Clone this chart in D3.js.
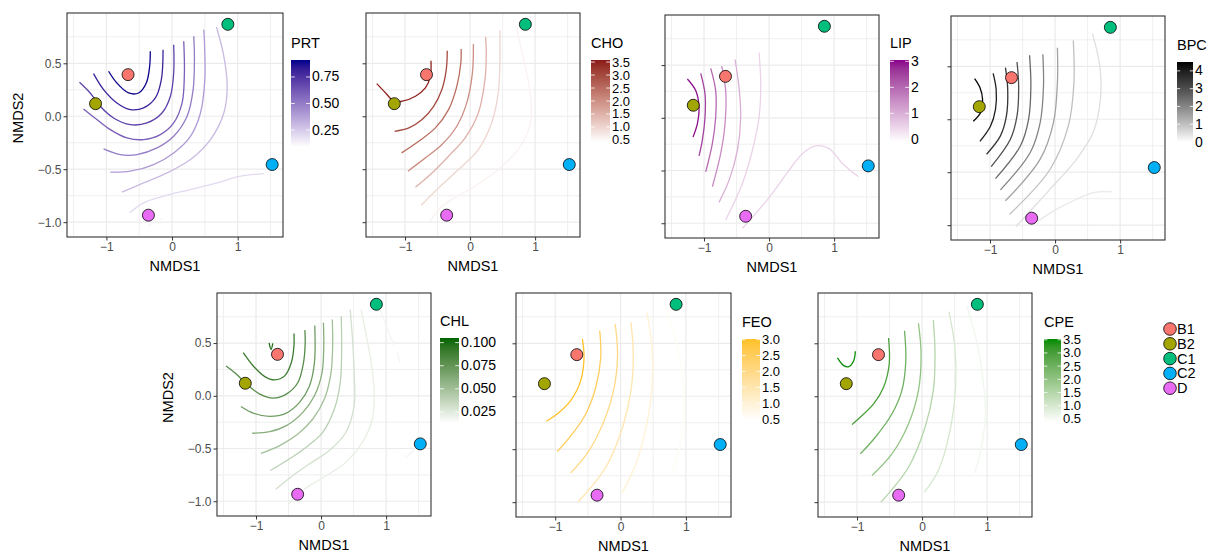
<!DOCTYPE html>
<html>
<head>
<meta charset="utf-8">
<script src="https://cdn.jsdelivr.net/npm/d3@7"></script>
<style>
body { margin: 0; background: white; }
svg { font-family: "Liberation Sans", Arial, Helvetica, sans-serif; }
</style>
</head>
<body>
<script>
// sites
const groups = ["B1", "B2", "C1", "C2", "D"];
const groupColors = ["#F8766D", "#A3A500", "#00BF7D", "#00B0F6", "#E76BF3"];
const nmds1 = [-0.67, -1.165, 0.85, 1.525, -0.36];
const nmds2 = [0.393, 0.119, 0.868, -0.456, -0.934];

const xTicks = [-1, 0, 1];
const xTickLabels = ["\u22121", "0", "1"];
const yTicks = [-1, -0.5, 0, 0.5];
const yTickLabels = ["\u22121.0", "\u22120.5", "0.0", "0.5"];
const xMinor = [-1.5, -0.5, 0.5, 1.5];
const yMinor = [-0.75, -0.25, 0.25, 0.75];

// ordisurf contour lines, [level, points in NMDS units]
const prtLines = [
    [0.9, [[-0.967,0.425],[-0.84,0.314],[-0.662,0.22],[-0.509,0.22],[-0.392,0.314],[-0.341,0.472],[-0.331,0.613]]],
    [0.8, [[-1.196,0.403],[-1.043,0.252],[-0.84,0.126],[-0.636,0.063],[-0.433,0.079],[-0.254,0.173],[-0.163,0.346],[-0.137,0.629]]],
    [0.7, [[-1.41,0.321],[-1.247,0.22],[-1.094,0.094],[-0.891,-0.016],[-0.636,-0.079],[-0.382,-0.063],[-0.153,0.031],[-0.025,0.189],[0.025,0.409],[0.025,0.676]]],
    [0.6, [[-1.349,0.069],[-1.145,-0.031],[-0.941,-0.126],[-0.687,-0.204],[-0.433,-0.22],[-0.178,-0.173],[0.025,-0.063],[0.153,0.126],[0.188,0.409],[0.178,0.708]]],
    [0.5, [[-1.043,-0.308],[-0.789,-0.362],[-0.534,-0.362],[-0.229,-0.299],[0.025,-0.189],[0.229,0],[0.321,0.252],[0.341,0.535],[0.331,0.755]]],
    [0.4, [[-0.941,-0.528],[-0.636,-0.519],[-0.28,-0.456],[0.025,-0.346],[0.28,-0.189],[0.433,0.031],[0.499,0.346],[0.494,0.692],[0.483,0.818]]],
    [0.3, [[-0.763,-0.717],[-0.433,-0.629],[-0.076,-0.535],[0.28,-0.409],[0.585,-0.22],[0.789,0.031],[0.84,0.283],[0.789,0.566],[0.677,0.843]]],
    [0.2, [[-0.646,-0.912],[-0.433,-0.818],[-0.127,-0.755],[0.28,-0.692],[0.687,-0.629],[1.043,-0.566],[1.399,-0.541]]],
    [0.12, [[-0.37,-1.04],[-0.27,-0.99]]],
    [0.12, [[-0.22,-0.975],[-0.15,-0.97]]]
];
const choLines = [
    [3.5, [[-1.435,0.308],[-1.298,0.22],[-1.17,0.142],[-1.043,0.142],[-0.84,0.189],[-0.687,0.267],[-0.611,0.377],[-0.601,0.525]]],
    [3.0, [[-1.16,-0.142],[-0.941,-0.11],[-0.738,-0.031],[-0.56,0.094],[-0.433,0.252],[-0.366,0.44],[-0.351,0.619]]],
    [2.5, [[-1.053,-0.346],[-0.789,-0.236],[-0.534,-0.11],[-0.331,0.063],[-0.204,0.283],[-0.142,0.503],[-0.137,0.635]]],
    [2.0, [[-0.957,-0.519],[-0.687,-0.393],[-0.433,-0.267],[-0.204,-0.094],[-0.051,0.126],[0.036,0.409],[0.051,0.682]]],
    [1.5, [[-0.84,-0.67],[-0.585,-0.535],[-0.331,-0.377],[-0.076,-0.204],[0.127,0.031],[0.229,0.346],[0.249,0.597],[0.239,0.748]]],
    [1.0, [[-0.753,-0.84],[-0.483,-0.676],[-0.178,-0.503],[0.127,-0.314],[0.331,-0.063],[0.433,0.22],[0.458,0.503],[0.458,0.811]]],
    [0.6, [[-0.621,-1.0],[-0.483,-0.881],[-0.28,-0.786],[0.076,-0.66],[0.433,-0.503],[0.738,-0.314],[0.916,-0.094],[0.941,0.094],[0.891,0.346],[0.789,0.629],[0.712,0.849]]]
];
const lipLines = [
    [3.0, [[-1.256,0.368],[-1.128,0.258],[-1.077,0.101],[-1.103,-0.057],[-1.169,-0.182]]],
    [2.5, [[-1.051,0.421],[-0.985,0.226],[-0.985,0.006],[-1.026,-0.214],[-1.077,-0.362]]],
    [2.0, [[-0.897,0.469],[-0.821,0.258],[-0.821,0.006],[-0.872,-0.245],[-0.974,-0.513]]],
    [1.5, [[-0.728,0.491],[-0.667,0.258],[-0.677,-0.057],[-0.744,-0.34],[-0.872,-0.654]]],
    [1.0, [[-0.523,0.553],[-0.462,0.289],[-0.436,0.006],[-0.487,-0.308],[-0.615,-0.591],[-0.769,-0.802]]],
    [0.5, [[-0.154,0.619],[-0.128,0.321],[-0.154,0.006],[-0.256,-0.308],[-0.41,-0.623],[-0.667,-0.969]]],
    [0.5, [[-0.41,-1.047],[-0.205,-0.906],[0.051,-0.717],[0.308,-0.497],[0.513,-0.34],[0.718,-0.267],[0.923,-0.292],[1.128,-0.434],[1.374,-0.56]]]
];
const bpcLines = [
    [4.5, [[-1.237,0.384],[-1.155,0.299],[-1.115,0.189],[-1.145,0.063],[-1.257,-0.019]]],
    [4.0, [[-0.952,0.434],[-0.906,0.283],[-0.916,0.094],[-0.992,-0.063],[-1.155,-0.208]]],
    [3.5, [[-0.763,0.487],[-0.728,0.283],[-0.748,0.031],[-0.84,-0.157],[-1.053,-0.33]]],
    [3.0, [[-0.585,0.541],[-0.56,0.314],[-0.585,0.031],[-0.687,-0.189],[-0.982,-0.447]]],
    [2.5, [[-0.392,0.604],[-0.372,0.314],[-0.407,0],[-0.534,-0.252],[-0.916,-0.56]]],
    [2.0, [[-0.188,0.613],[-0.178,0.314],[-0.229,-0.031],[-0.382,-0.314],[-0.84,-0.667]]],
    [1.5, [[0.036,0.676],[0.036,0.346],[-0.025,-0.031],[-0.229,-0.377],[-0.763,-0.77]]],
    [1.0, [[0.28,0.745],[0.29,0.346],[0.204,-0.063],[-0.076,-0.472],[-0.697,-0.896]]],
    [0.5, [[0.575,0.808],[0.687,0.503],[0.697,0.189],[0.585,-0.126],[0.331,-0.377],[-0.076,-0.66],[-0.356,-0.849],[-0.601,-1.013]]],
    [0.35, [[-0.27,-0.965],[0.025,-0.849],[0.331,-0.755],[0.585,-0.692],[0.875,-0.686]]]
];
const chlLines = [
    [0.100, [[-0.799,0.503],[-0.768,0.44],[-0.743,0.497]]],
    [0.090, [[-1.196,0.409],[-1.043,0.283],[-0.865,0.182],[-0.712,0.151],[-0.56,0.189],[-0.458,0.314],[-0.417,0.472],[-0.417,0.591]]],
    [0.080, [[-1.461,0.283],[-1.298,0.204],[-1.145,0.11],[-0.941,0.016],[-0.738,-0.022],[-0.534,0.016],[-0.356,0.126],[-0.27,0.314],[-0.244,0.503],[-0.249,0.623]]],
    [0.070, [[-1.232,-0.101],[-1.043,-0.164],[-0.789,-0.195],[-0.534,-0.164],[-0.331,-0.063],[-0.178,0.094],[-0.102,0.314],[-0.097,0.667]]],
    [0.060, [[-1.059,-0.355],[-0.789,-0.34],[-0.534,-0.283],[-0.28,-0.157],[-0.102,0],[0.015,0.22],[0.041,0.472],[0.036,0.692]]],
    [0.050, [[-0.926,-0.547],[-0.636,-0.472],[-0.356,-0.362],[-0.127,-0.22],[0.051,-0.031],[0.153,0.22],[0.178,0.472],[0.173,0.723]]],
    [0.040, [[-0.779,-0.708],[-0.483,-0.597],[-0.229,-0.487],[0.025,-0.346],[0.204,-0.126],[0.295,0.126],[0.316,0.409],[0.31,0.755]]],
    [0.030, [[-0.697,-0.887],[-0.433,-0.755],[-0.178,-0.645],[0.127,-0.519],[0.382,-0.346],[0.509,-0.094],[0.509,0.22],[0.483,0.535],[0.448,0.818]]],
    [0.022, [[-0.27,-0.89],[-0.127,-0.833],[0.127,-0.739],[0.382,-0.629],[0.636,-0.44],[0.789,-0.22],[0.814,0.063],[0.763,0.346],[0.687,0.597],[0.616,0.818]]],
    [0.022, [[-0.509,-1.031],[-0.433,-0.981]]],
    [0.018, [[0.906,0.818],[1.12,0.478]]],
    [0.018, [[1.17,0.409],[1.211,0.314]]],
    [0.018, [[1.298,-0.588],[1.45,-0.503]]]
];
const feoLines = [
    [3.0, [[-0.585,0.541],[-0.559,0.368],[-0.61,0.148],[-0.764,-0.041],[-0.969,-0.167],[-1.138,-0.236]]],
    [2.5, [[-0.318,0.619],[-0.303,0.368],[-0.379,0.085],[-0.533,-0.167],[-0.738,-0.355],[-0.969,-0.522]]],
    [2.0, [[-0.082,0.682],[-0.046,0.399],[-0.097,0.085],[-0.251,-0.23],[-0.482,-0.513],[-0.764,-0.726]]],
    [1.5, [[0.159,0.698],[0.195,0.399],[0.159,0.053],[0.031,-0.292],[-0.226,-0.67],[-0.646,-0.994]]],
    [1.0, [[0.4,0.792],[0.482,0.462],[0.482,0.085],[0.39,-0.292],[0.236,-0.638],[0.021,-0.915]]],
    [0.6, [[0.687,0.846],[0.851,0.525],[0.954,0.148],[0.969,-0.167],[0.903,-0.481],[0.8,-0.726]]]
];
const cpeLines = [
    [3.5, [[-1.301,0.362],[-1.204,0.289],[-1.128,0.28],[-1.051,0.336],[-1.026,0.425]]],
    [3.0, [[-0.515,0.55],[-0.505,0.305],[-0.592,0.085],[-0.745,-0.072],[-1.077,-0.267]]],
    [2.5, [[-0.27,0.619],[-0.25,0.336],[-0.311,0.053],[-0.464,-0.167],[-0.719,-0.387],[-0.949,-0.544]]],
    [2.0, [[-0.056,0.689],[-0.015,0.399],[-0.056,0.053],[-0.209,-0.261],[-0.464,-0.544],[-0.77,-0.748]]],
    [1.5, [[0.173,0.72],[0.199,0.399],[0.173,0.053],[0.046,-0.292],[-0.209,-0.67],[-0.633,-1.0]]],
    [1.0, [[0.413,0.799],[0.505,0.462],[0.515,0.085],[0.429,-0.324],[0.25,-0.701],[0.036,-0.906]]],
    [0.6, [[0.684,0.855],[0.837,0.525],[0.939,0.148],[0.974,-0.167],[0.913,-0.481],[0.811,-0.726]]]
];

// colour bar limits and breaks
const prtBreaks = [0.25, 0.5, 0.75];
const prtLabels = ["0.25", "0.50", "0.75"];
const choBreaks = [0.5, 1, 1.5, 2, 2.5, 3, 3.5];
const choLabels = ["0.5", "1.0", "1.5", "2.0", "2.5", "3.0", "3.5"];
const lipBreaks = [0, 1, 2, 3];
const lipLabels = ["0", "1", "2", "3"];
const bpcBreaks = [0, 1, 2, 3, 4];
const bpcLabels = ["0", "1", "2", "3", "4"];
const chlBreaks = [0.025, 0.05, 0.075, 0.1];
const chlLabels = ["0.025", "0.050", "0.075", "0.100"];
const feoBreaks = [0.5, 1, 1.5, 2, 2.5, 3];
const feoLabels = ["0.5", "1.0", "1.5", "2.0", "2.5", "3.0"];
const cpeBreaks = [0.5, 1, 1.5, 2, 2.5, 3, 3.5];
const cpeLabels = ["0.5", "1.0", "1.5", "2.0", "2.5", "3.0", "3.5"];

const panels = [
    {name: "PRT", lines: prtLines, high: "#00008B", lim: [0.09, 0.91], breaks: prtBreaks, labels: prtLabels,
     box: [67, 13, 216, 224], bar: [291, 60, 19, 87], yLabels: true},
    {name: "CHO", lines: choLines, high: "#8B1A1A", lim: [0.42, 3.58], breaks: choBreaks, labels: choLabels,
     box: [366, 13, 214, 224], bar: [591, 60, 19, 82], yLabels: false},
    {name: "LIP", lines: lipLines, high: "#8B008B", lim: [-0.1, 3.05], breaks: lipBreaks, labels: lipLabels,
     box: [665, 15, 214, 223], bar: [890, 60, 19, 82], yLabels: false},
    {name: "BPC", lines: bpcLines, high: "#000000", lim: [0, 4.5], breaks: bpcBreaks, labels: bpcLabels,
     box: [951, 16, 214, 224], bar: [1177, 62, 16, 80], yLabels: false},
    {name: "CHL", lines: chlLines, high: "#006400", lim: [0.013, 0.105], breaks: chlBreaks, labels: chlLabels,
     box: [217, 293, 214, 223], bar: [440, 338, 19, 85], yLabels: true},
    {name: "FEO", lines: feoLines, high: "#FFC125", lim: [0.47, 3.02], breaks: feoBreaks, labels: feoLabels,
     box: [516, 293, 215, 224], bar: [742, 339, 18, 81], yLabels: false},
    {name: "CPE", lines: cpeLines, high: "#008B00", lim: [0.38, 3.53], breaks: cpeBreaks, labels: cpeLabels,
     box: [818, 293, 214, 224], bar: [1044, 339, 17, 83], yLabels: false}
];

window.addEventListener("load", drawAll);

function drawAll() {
    const svg = d3.select("body").append("svg")
        .attr("width", 1215).attr("height", 559);
    const defs = svg.append("defs");

    panels.forEach((p, i) => drawPanel(svg, defs, p, i));

    // site legend
    const leg = svg.append("g");
    groups.forEach((g, i) => {
        const cy = 329 + i * 14.8;
        leg.append("circle").attr("cx", 1170).attr("cy", cy).attr("r", 6.3)
            .attr("fill", groupColors[i]).attr("stroke", "black").attr("stroke-width", 0.8);
        leg.append("text").attr("x", 1177).attr("y", cy + 5)
            .attr("font-size", 14.5).text(g);
    });
}

function drawPanel(svg, defs, p, idx) {
    const [bx, by, bw, bh] = p.box;
    const x = d3.scaleLinear().domain([-1.6, 1.69]).range([bx, bx + bw]);
    const y = d3.scaleLinear().domain([-1.14, 0.975]).range([by + bh, by]);
    const col = d3.scaleLinear().domain(p.lim).range(["white", p.high])
        .interpolate(d3.interpolateLab).clamp(true);

    const g = svg.append("g");
    defs.append("clipPath").attr("id", "clip" + idx)
        .append("rect").attr("x", bx).attr("y", by).attr("width", bw).attr("height", bh);

    // grid
    g.selectAll(".minx").data(xMinor).enter().append("line")
        .attr("x1", d => x(d)).attr("x2", d => x(d)).attr("y1", by).attr("y2", by + bh)
        .attr("stroke", "#EBEBEB").attr("stroke-width", 0.8);
    g.selectAll(".miny").data(yMinor).enter().append("line")
        .attr("y1", d => y(d)).attr("y2", d => y(d)).attr("x1", bx).attr("x2", bx + bw)
        .attr("stroke", "#EBEBEB").attr("stroke-width", 0.8);
    g.selectAll(".majx").data(xTicks).enter().append("line")
        .attr("x1", d => x(d)).attr("x2", d => x(d)).attr("y1", by).attr("y2", by + bh)
        .attr("stroke", "#EBEBEB").attr("stroke-width", 1.2);
    g.selectAll(".majy").data(yTicks).enter().append("line")
        .attr("y1", d => y(d)).attr("y2", d => y(d)).attr("x1", bx).attr("x2", bx + bw)
        .attr("stroke", "#EBEBEB").attr("stroke-width", 1.2);

    // contours
    const line = d3.line().x(d => x(d[0])).y(d => y(d[1]))
        .curve(d3.curveCatmullRom.alpha(0.5));
    g.append("g").attr("clip-path", "url(#clip" + idx + ")")
        .selectAll("path").data(p.lines.slice().reverse()).enter().append("path")
        .attr("d", d => line(d[1]))
        .attr("fill", "none").attr("stroke", d => col(d[0])).attr("stroke-width", 1.3);

    // sites
    g.selectAll(".site").data(groups).enter().append("circle")
        .attr("cx", (d, i) => x(nmds1[i])).attr("cy", (d, i) => y(nmds2[i])).attr("r", 6)
        .attr("fill", (d, i) => groupColors[i]).attr("stroke", "black").attr("stroke-width", 0.8);

    // frame
    g.append("rect").attr("x", bx).attr("y", by).attr("width", bw).attr("height", bh)
        .attr("fill", "none").attr("stroke", "#333333").attr("stroke-width", 1.1);

    // axes
    const xAx = g.append("g").attr("transform", "translate(0," + (by + bh) + ")")
        .call(d3.axisBottom(x).tickValues(xTicks).tickFormat((d, i) => xTickLabels[i])
            .tickSize(3.5).tickPadding(2));
    const yAx = g.append("g").attr("transform", "translate(" + bx + ",0)")
        .call(d3.axisLeft(y).tickValues(yTicks).tickFormat((d, i) => p.yLabels ? yTickLabels[i] : "")
            .tickSize(3.5).tickPadding(2));
    [xAx, yAx].forEach(a => {
        a.select(".domain").remove();
        a.selectAll(".tick line").attr("stroke", "#333333").attr("stroke-width", 1);
        a.selectAll(".tick text").attr("fill", "#4D4D4D").attr("font-size", 12)
            .attr("font-family", "Liberation Sans, Arial, sans-serif");
    });

    g.append("text").attr("x", bx + bw / 2).attr("y", by + bh + 34)
        .attr("text-anchor", "middle").attr("font-size", 14.5).text("NMDS1");
    if (p.yLabels) {
        g.append("text").attr("transform", "translate(" + (bx - 44) + "," + (by + bh / 2 - 7) + ") rotate(-90)")
            .attr("text-anchor", "middle").attr("font-size", 14.5).text("NMDS2");
    }

    // colour bar
    const [lx, ly, lw, lh] = p.bar;
    const gid = "grad" + idx;
    const grad = defs.append("linearGradient").attr("id", gid)
        .attr("x1", 0).attr("y1", 1).attr("x2", 0).attr("y2", 0);
    d3.range(0, 1.0001, 0.1).forEach(t => {
        grad.append("stop").attr("offset", t)
            .attr("stop-color", col(p.lim[0] + t * (p.lim[1] - p.lim[0])));
    });
    g.append("rect").attr("x", lx).attr("y", ly).attr("width", lw).attr("height", lh)
        .attr("fill", "url(#" + gid + ")");
    const ls = d3.scaleLinear().domain(p.lim).range([ly + lh, ly]);
    p.breaks.forEach((b, i) => {
        g.append("line").attr("x1", lx).attr("x2", lx + lw / 5)
            .attr("y1", ls(b)).attr("y2", ls(b)).attr("stroke", "white").attr("stroke-width", 0.8);
        g.append("line").attr("x1", lx + lw - lw / 5).attr("x2", lx + lw)
            .attr("y1", ls(b)).attr("y2", ls(b)).attr("stroke", "white").attr("stroke-width", 0.8);
        g.append("text").attr("x", lx + lw + 2).attr("y", ls(b) + 4.5)
            .attr("font-size", p.breaks.length > 5 ? 13 : 14).text(p.labels[i]);
    });
    g.append("text").attr("x", lx).attr("y", ly - 12)
        .attr("font-size", 14.5).text(p.name);
}
</script>
</body>
</html>
